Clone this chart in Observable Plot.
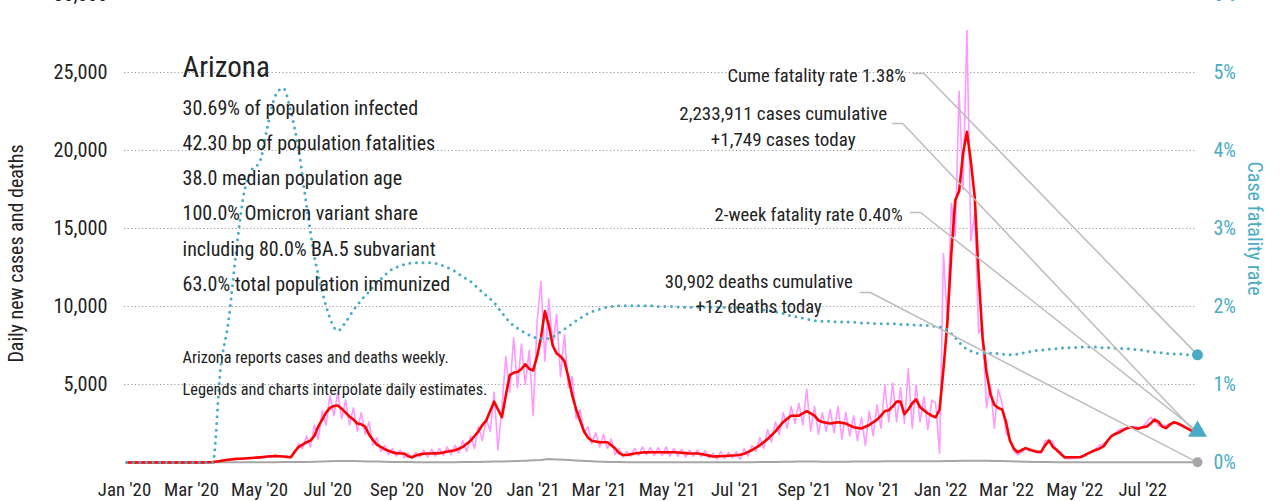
<!DOCTYPE html>
<html><head><meta charset="utf-8">
<script src="https://cdn.jsdelivr.net/npm/d3@7"></script>
<script src="https://cdn.jsdelivr.net/npm/@observablehq/plot@0.6"></script>
<style>html,body{margin:0;padding:0;background:#fff;overflow:hidden}</style>
</head><body><div id="chart"></div>
<script>
// ---------------- DATA ----------------
const seriesStart = "2020-01-03";   // first sample date
const seriesEnd = "2022-08-19";     // last sample date
const halfWeekStepDays = 3.5;       // spacing of case samples
const weekStepDays = 7;             // spacing of death / fatality-rate samples

// daily new cases (raw, interpolated from weekly reports), twice-weekly samples
const dailyCases = [
0,0,0,0,0,0,
0,0,0,0,0,0,0,0,0,0,
0,0,0,0,0,20,40,60,120,150,
200,160,250,220,280,240,300,270,330,300,
420,360,480,380,400,330,380,600,1200,900,
1700,1000,2400,1500,3300,2400,4300,3000,4500,2800,
4000,2400,3500,2000,3200,1800,2600,1100,1600,700,
1100,500,900,400,800,300,600,250,650,350,
800,350,850,400,900,450,1000,500,1100,600,
1400,700,1700,900,2300,1400,2800,2000,4500,800,
3500,6800,4500,8000,4800,7600,5000,7200,3000,9000,
11600,6500,10500,7500,9500,5500,8200,4800,5500,2800,
3400,1900,2300,1200,1900,1000,1800,900,1500,500,
900,350,700,400,900,450,1000,500,950,450,
950,450,1000,400,900,400,850,350,800,400,
800,380,750,300,600,200,700,250,650,300,
700,200,900,400,1100,700,1600,900,2100,1300,
2600,1800,3200,2200,3600,2500,3800,2400,4700,2000,
3600,1800,3200,2000,3400,1900,3600,1500,3200,1700,
3000,1400,2900,1100,3300,1700,3700,2200,5000,2600,
5100,2600,4800,2500,6000,2200,5000,2600,4200,2100,
4000,3800,600,13400,9000,16600,14500,23800,17500,27700,
14200,16000,8300,8700,3500,5000,2200,4700,3800,1900,
1500,700,500,650,900,750,700,650,600,1400,
1450,1300,700,700,250,250,280,280,380,400,
600,700,900,1100,1200,1400,1700,1900,2100,2200,
2200,2300,2300,2250,2300,2600,2900,2700,2350,2350,
2400,2450,2600,2450,2300,2200,2100,1900,1750
];

// 7-day average of new cases, same dates as dailyCases
const avgCases = [
0,0,0,0,0,0,
0,0,0,0,0,0,0,0,0,0,
0,0,0,0,5,15,30,60,100,140,
180,210,230,245,260,275,290,310,330,355,
380,400,420,400,380,360,340,700,1000,1150,
1300,1400,1700,2300,2750,3200,3500,3620,3650,3450,
3200,2950,2750,2500,2450,2300,1800,1450,1150,1000,
850,750,650,600,580,580,400,340,450,520,
560,580,580,585,590,640,700,740,780,880,
1000,1200,1400,1700,2000,2400,2700,3300,3900,3400,
2900,4300,5600,5750,5800,6000,6300,6000,5900,6800,
8000,9700,8800,7500,7000,6800,6500,5500,4300,3400,
2700,2000,1600,1400,1350,1300,1300,1300,1100,900,
600,480,480,530,580,610,640,650,660,660,
660,655,650,655,660,640,620,600,580,580,
580,540,500,440,380,390,400,415,430,445,
460,500,560,680,800,950,1100,1300,1500,1750,
2000,2300,2600,2800,3000,3000,3000,3150,3300,3150,
3000,2700,2600,2550,2500,2540,2580,2540,2500,2380,
2260,2220,2180,2290,2400,2580,2750,3000,3300,3350,
3600,3900,3900,3100,3400,3800,4050,3550,3350,3150,
3000,2900,3400,6000,9000,13400,16800,17400,19800,21200,
19300,17000,12000,8000,5800,4400,3700,3500,3400,2600,
1400,900,660,800,920,830,750,680,700,1100,
1400,1000,800,550,340,340,340,340,340,450,
580,700,800,900,1050,1400,1700,1830,1940,2070,
2200,2260,2200,2170,2260,2300,2500,2750,2600,2300,
2200,2450,2580,2500,2380,2240,2100,1950,1800
];

// daily deaths, weekly samples
const dailyDeaths = [
0,0,0,
0,0,0,0,0,0,0,0,3,8,
12,15,18,20,20,22,20,25,25,30,
40,50,60,80,90,95,90,80,70,60,
50,40,30,25,20,20,15,15,20,20,
25,30,40,50,60,70,80,100,120,140,
160,220,200,180,150,120,90,70,50,40,
30,20,20,15,15,15,12,12,10,10,
10,10,10,12,12,12,15,20,25,30,
40,50,55,60,60,60,55,50,50,55,
60,65,70,70,75,80,80,80,80,85,
85,85,90,100,110,120,120,110,100,90,
80,60,50,40,30,25,20,15,15,12,
12,10,10,10,12,12,12,12,12,12,
12,12,12,12,12
];

// case fatality rate (%), weekly samples, same dates as dailyDeaths
const caseFatalityPct = [
0,0,0,
0,0,0,0,0,0,0,0,0,1.2,
1.8,2.7,3.45,3.75,3.85,4.3,4.7,4.8,4.5,4.0,
3.3,2.65,2.2,1.85,1.69,1.8,1.95,2.08,2.19,2.3,
2.4,2.48,2.52,2.55,2.56,2.56,2.56,2.54,2.5,2.45,
2.38,2.32,2.23,2.14,2.05,1.92,1.8,1.72,1.66,1.61,
1.59,1.59,1.64,1.71,1.78,1.85,1.91,1.95,1.98,2.0,
2.01,2.01,2.01,2.01,2.01,2.0,2.0,2.0,1.99,1.99,
1.99,1.99,1.99,1.99,1.98,1.98,1.97,1.97,1.96,1.95,
1.93,1.91,1.88,1.86,1.84,1.82,1.81,1.81,1.8,1.8,
1.8,1.79,1.79,1.78,1.78,1.78,1.77,1.77,1.76,1.76,
1.75,1.74,1.7,1.6,1.49,1.43,1.4,1.4,1.4,1.39,
1.38,1.39,1.41,1.43,1.44,1.45,1.46,1.47,1.47,1.48,
1.48,1.48,1.47,1.47,1.46,1.46,1.45,1.44,1.42,1.41,
1.4,1.39,1.39,1.38,1.38
];

const twoWeekFatalityPct = 0.40;

const xTickDates = ["2020-01-01","2020-03-01","2020-05-01","2020-07-01","2020-09-01","2020-11-01",
  "2021-01-01","2021-03-01","2021-05-01","2021-07-01","2021-09-01","2021-11-01",
  "2022-01-01","2022-03-01","2022-05-01","2022-07-01"];
const leftTicks = [5000,10000,15000,20000,25000,30000];
const gridTicks = [5000,10000,15000,20000,25000];
const rightTickPcts = [0,1,2,3,4,5,6];

const titleText = "Arizona";
const legendLines = [
  "30.69% of population infected",
  "42.30 bp of population fatalities",
  "38.0 median population age",
  "100.0% Omicron variant share",
  "including 80.0% BA.5 subvariant",
  "63.0% total population immunized"
];
const noteLines = [
  "Arizona reports cases and deaths weekly.",
  "Legends and charts interpolate daily estimates."
];
const annotationTexts = [
  "Cume fatality rate 1.38%",
  "2,233,911 cases cumulative\n+1,749 cases today",
  "2-week fatality rate 0.40%",
  "30,902 deaths cumulative\n+12 deaths today"
];
const leftAxisTitle = "Daily new cases and deaths";
const rightAxisTitle = "Case fatality rate";

// ---------------- LAYOUT / STYLE ----------------
const FONT = "'Liberation Sans Narrow','Arial Narrow','Roboto Condensed','DejaVu Sans Condensed',sans-serif";
const TEAL = "#4aabc6";
const INK = "#222";
const pctToCases = 30000 / 6;   // right axis: 6% at top, matches 30,000 on left

const day = s => new Date(s + "T00:00:00Z");
const t0 = Date.parse(seriesStart + "T00:00:00Z");
const caseRows = dailyCases.map((v, i) => ({date: new Date(t0 + i * halfWeekStepDays * 864e5), daily: v, avg: avgCases[i]}));
const weekRows = dailyDeaths.map((v, i) => ({date: new Date(t0 + i * weekStepDays * 864e5), deaths: v, cfr: caseFatalityPct[i]}));
const lastCase = caseRows[caseRows.length - 1];
const lastWeek = weekRows[weekRows.length - 1];

// annotation placement (in data coordinates)
const annLayout = [
  {date: "2021-12-01", v: 24900, anchor: "end",    lh: 1.35, s: "2021-12-08", b: "2021-12-17", ly: 24940, target: lastWeek.cfr * pctToCases},
  {date: "2021-08-13", v: 21650, anchor: "middle", lh: 1.35, s: "2021-11-19", b: "2021-11-28", ly: 21730, target: lastCase.avg},
  {date: "2021-11-28", v: 16000, anchor: "end",    lh: 1.35, s: "2021-12-05", b: "2021-12-14", ly: 16025, target: twoWeekFatalityPct * pctToCases},
  {date: "2021-07-22", v: 10900, anchor: "middle", lh: 1.3,  s: "2021-10-21", b: "2021-10-30", ly: 10900, target: lastWeek.deaths}
];
const annRows = annLayout.map((a, k) => ({date: day(a.date), v: a.v, text: annotationTexts[k], anchor: a.anchor, lh: a.lh}));
const leaderRows = annLayout.flatMap((a, k) => [
  {k, date: day(a.s), v: a.ly},
  {k, date: day(a.b), v: a.ly},
  {k, date: day(seriesEnd), v: a.target}
]);

const textMark = (rows, o) => Plot.text(rows, {x: "date", y: "v", text: "text", fontFamily: FONT, fill: INK, ...o});

const chart = Plot.plot({
  width: 1282, height: 501,
  marginLeft: 124, marginRight: 85, marginTop: 0, marginBottom: 39,
  style: {fontFamily: FONT, background: "#fff", color: INK},
  x: {type: "utc", domain: [day("2020-01-01"), day(seriesEnd)], range: [124, 1197]},
  y: {domain: [0, 30000], range: [462, -6]},
  marks: [
    Plot.gridY({ticks: gridTicks, stroke: "#9a9a9a", strokeOpacity: 1, strokeDasharray: "1.2,2.4", strokeWidth: 1}),
    Plot.axisX(xTickDates.map(day), {tickSize: 0, tickPadding: 20, fontSize: 18.8, tickFormat: d3.utcFormat("%b '%y"), label: null, fill: INK}),
    Plot.axisY(leftTicks, {tickSize: 0, tickPadding: 17, fontSize: 20.3, tickFormat: d3.format(","), label: null, fill: INK}),
    Plot.axisY(rightTickPcts.map(p => p * pctToCases), {anchor: "right", tickSize: 0, tickPadding: 16, fontSize: 20, tickFormat: d => `${Math.round(d / pctToCases)}%`, label: null, fill: TEAL}),
    Plot.text([leftAxisTitle], {frameAnchor: "left", dx: -108, dy: 22, rotate: -90, textAnchor: "middle", lineAnchor: "middle", fontSize: 20, fill: INK, fontFamily: FONT}),
    Plot.text([rightAxisTitle], {frameAnchor: "right", dx: 57, dy: -3, rotate: 90, textAnchor: "middle", lineAnchor: "middle", fontSize: 20, fill: TEAL, fontFamily: FONT}),

    Plot.lineY(caseRows, {x: "date", y: "daily", stroke: "#ff99ff", strokeWidth: 1.6}),
    Plot.lineY(weekRows, {x: "date", y: "deaths", stroke: "#a6a6a6", strokeWidth: 2}),
    Plot.lineY(caseRows, {x: "date", y: "avg", stroke: "#ff0000", strokeWidth: 2.6, strokeLinejoin: "round"}),
    Plot.lineY(weekRows, {x: "date", y: d => d.cfr * pctToCases, stroke: TEAL, strokeWidth: 3, strokeDasharray: "0,6.6", strokeLinecap: "round", curve: "monotone-x"}),

    textMark([{date: day("2020-02-22"), v: 25300, text: titleText}], {textAnchor: "start", lineAnchor: "middle", fontSize: 29}),
    textMark([{date: day("2020-02-22"), v: 17370, text: legendLines.join("\n")}], {textAnchor: "start", lineAnchor: "middle", fontSize: 20, lineHeight: 1.76}),
    textMark([{date: day("2020-02-22"), v: 6030, text: noteLines.join("\n")}], {textAnchor: "start", lineAnchor: "middle", fontSize: 16.3, lineHeight: 2.0}),

    Plot.line(leaderRows, {x: "date", y: "v", z: "k", stroke: "#bdbdbd", strokeWidth: 1.5}),
    textMark(annRows.filter(d => d.anchor === "end"), {textAnchor: "end", lineAnchor: "middle", fontSize: 18.6, lineHeight: 1.35}),
    textMark(annRows.filter(d => d.anchor === "middle" && d.lh === 1.35), {textAnchor: "middle", lineAnchor: "middle", fontSize: 19, lineHeight: 1.37}),
    textMark(annRows.filter(d => d.anchor === "middle" && d.lh === 1.3), {textAnchor: "middle", lineAnchor: "middle", fontSize: 18.6, lineHeight: 1.34}),

    Plot.dot([lastWeek], {x: "date", y: "deaths", r: 5, fill: "#a6a6a6"}),
    Plot.dot([lastWeek], {x: "date", y: d => d.cfr * pctToCases, r: 5.5, fill: TEAL}),
    Plot.dot([lastWeek], {x: "date", y: () => twoWeekFatalityPct * pctToCases, r: 7, symbol: "triangle", fill: TEAL})
  ]
});
document.getElementById("chart").append(chart);
</script>
</body></html>
